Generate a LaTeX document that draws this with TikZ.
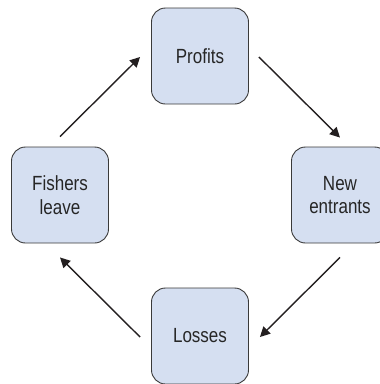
\documentclass[tikz,border=0pt]{standalone}
\usepackage{fontspec}
\setmainfont{Liberation Sans}[FakeStretch=0.83]
\usetikzlibrary{arrows.meta,calc}
\definecolor{boxfill}{HTML}{D5DFF1}
\definecolor{boxline}{HTML}{3A3A3A}
\definecolor{txt}{HTML}{262626}
\definecolor{arrcol}{HTML}{231F20}
\begin{document}
\begin{tikzpicture}[x=1pt,y=-1pt,
  box/.style={draw=boxline,line width=0.9pt,fill=boxfill,rounded corners=14pt,
    minimum width=97pt,minimum height=96pt,inner sep=0pt,align=center,
    text=txt,font=\fontsize{20.5pt}{23.5pt}\selectfont},
  arr/.style={draw=arrcol,line width=1.4pt,-{Triangle[length=10pt,width=10pt]}}]
\useasboundingbox (0,0) rectangle (380,384);
\node[box] (P) at (200,56) {Profits};
\node[box] (N) at (340,195) {New\\entrants};
\node[box] (L) at (200,336) {Losses};
\node[box] (F) at (60,195) {Fishers\\leave};
\draw[arr] ([yshift=10pt]F.north) -- ([xshift=-11pt,yshift=-1pt]P.west);
\draw[arr] ([xshift=10pt,yshift=-1pt]P.east) -- ([yshift=9pt]N.north);
\draw[arr] ([yshift=-14pt]N.south) -- ([xshift=11pt,yshift=-1pt]L.east);
\draw[arr] ([xshift=-11pt,yshift=-1pt]L.west) -- ([yshift=-14pt]F.south);
\end{tikzpicture}
\end{document}
